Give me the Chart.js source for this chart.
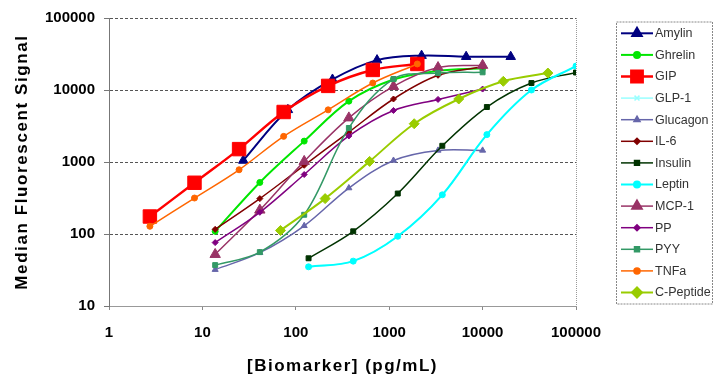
<!DOCTYPE html>
<html>
<head>
<meta charset="utf-8">
<script src="https://cdn.jsdelivr.net/npm/chart.js@4.4.0/dist/chart.umd.min.js"></script>
<style>
  html, body { margin: 0; padding: 0; background: #fff; }
  #wrap { width: 713px; height: 374px; }
</style>
</head>
<body>
<div id="wrap"><canvas id="chart" width="713" height="374"></canvas></div>
<script>
// concentrations (pg/mL), 3-fold dilution series
const xGip = [2.74, 8.23, 24.7, 74.1, 222, 667, 2000];
const xAmylin = [27.4, 82.3, 247, 741, 2222, 6667, 20000];
const xStd = [13.7, 41.2, 123, 370, 1111, 3333, 10000];
const xCpep = [68.6, 206, 617, 1852, 5556, 16667, 50000];
const xHigh = [137, 412, 1235, 3704, 11111, 33333, 100000];

// median fluorescent signal
const amylin = [1050, 5300, 14000, 26000, 30000, 29000, 29000];
const ghrelin = [109, 520, 1950, 7000, 14000, 18500, 20000];
const gip = [175, 515, 1510, 4950, 11400, 19000, 23000];
const glp1 = [35, 42, 93, 350, 2400, 10000, 21500];
const glucagon = [32, 55, 130, 435, 1050, 1450, 1450];
const il6 = [116, 310, 900, 2600, 7500, 16000, 21000];
const insulin = [46, 109, 365, 1680, 5800, 12500, 17500];
const leptin = [35, 42, 93, 350, 2400, 10000, 21500];
const mcp1 = [52, 215, 1020, 4100, 11200, 20500, 22000];
const pp = [76, 200, 670, 2300, 5200, 7400, 10300];
const pyy = [37, 56, 185, 2970, 14200, 17200, 17600];
const tnfa = [128, 316, 780, 2270, 5300, 12500, 23000];
const cpeptide = [112, 310, 1020, 3400, 7500, 13200, 17200];

const xTicks = [1, 10, 100, 1000, 10000, 100000];
const yTicks = [10, 100, 1000, 10000, 100000];

const FONT = "'Liberation Sans', Arial, sans-serif";

function pts(xs, ys) {
    return xs.map((x, i) => ({ x: x, y: ys[i] }));
}

function series(label, xs, ys, color, style, radius, width) {
    return {
        label: label,
        data: pts(xs, ys),
        borderColor: color,
        backgroundColor: color,
        pointBackgroundColor: color,
        pointBorderColor: color,
        pointStyle: style,
        pointRadius: radius,
        pointBorderWidth: 1,
        borderWidth: width || 1.5,
        tension: 0.35,
        fill: false
    };
}

const datasets = [
    series('Amylin', xAmylin, amylin, '#000080', 'triangle', 5.5, 2),
    series('Ghrelin', xStd, ghrelin, '#00e600', 'circle', 3, 2),
    series('GIP', xGip, gip, '#ff0000', 'rect', 9.5, 2.5),
    series('GLP-1', xHigh, glp1, '#99ffff', 'crossRot', 3.5, 1.5),
    series('Glucagon', xStd, glucagon, '#6666aa', 'triangle', 3.5, 1.5),
    series('IL-6', xStd, il6, '#800000', 'rectRot', 3, 1.5),
    series('Insulin', xHigh, insulin, '#003300', 'rect', 3.5, 1.5),
    series('Leptin', xHigh, leptin, '#00ffff', 'circle', 3, 2),
    series('MCP-1', xStd, mcp1, '#993366', 'triangle', 6, 1.5),
    series('PP', xStd, pp, '#800080', 'rectRot', 3, 1.5),
    series('PYY', xStd, pyy, '#339966', 'rect', 3.5, 1.5),
    series('TNFa', xGip, tnfa, '#ff6600', 'circle', 3, 1.5),
    series('C-Peptide', xCpep, cpeptide, '#99cc00', 'rectRot', 5, 2)
];
// later series on top, like the spreadsheet
datasets.forEach((d, i) => { d.order = -i; });

const decorations = {
    id: 'decorations',
    afterDraw(chart) {
        const ctx = chart.ctx;
        const a = chart.chartArea;
        ctx.save();

        // right border of plot area
        ctx.strokeStyle = '#999';
        ctx.lineWidth = 1;
        ctx.setLineDash([1, 1]);
        ctx.beginPath();
        ctx.moveTo(a.right + 0.5, a.top);
        ctx.lineTo(a.right + 0.5, a.bottom);
        ctx.stroke();
        ctx.setLineDash([]);

        // axis titles
        ctx.fillStyle = '#000';
        ctx.font = 'bold 17px ' + FONT;
        ctx.textAlign = 'center';
        ctx.textBaseline = 'alphabetic';
        ctx.letterSpacing = '1.5px';
        ctx.fillText('[Biomarker] (pg/mL)', (a.left + a.right) / 2, 371);
        ctx.save();
        ctx.translate(27, 162);
        ctx.rotate(-Math.PI / 2);
        ctx.letterSpacing = '1.6px';
        ctx.fillText('Median Fluorescent Signal', 0, 0);
        ctx.restore();
        ctx.letterSpacing = '0px';

        // legend
        const lx = 616, ly = 21.5, lw = 96, lh = 282;
        ctx.strokeStyle = '#888';
        ctx.setLineDash([2, 1]);
        ctx.strokeRect(lx + 0.5, ly + 0.5, lw, lh);
        ctx.setLineDash([]);
        ctx.font = '12.5px ' + FONT;
        ctx.textAlign = 'left';
        ctx.textBaseline = 'middle';
        chart.data.datasets.forEach((d, i) => {
            const y = 33.3 + i * 21.6;
            ctx.strokeStyle = d.borderColor;
            ctx.fillStyle = d.borderColor;
            ctx.lineWidth = d.borderWidth;
            ctx.beginPath();
            ctx.moveTo(621, y);
            ctx.lineTo(653, y);
            ctx.stroke();
            Chart.helpers.drawPoint(ctx, {
                pointStyle: d.pointStyle,
                radius: d.pointStyle === 'rect' && d.pointRadius > 5 ? 8 : d.pointRadius,
                rotation: 0,
                borderWidth: 1
            }, 637, y);
            ctx.fillStyle = '#333';
            ctx.fillText(d.label, 655, y + 0.5);
        });
        ctx.restore();
    }
};

new Chart(document.getElementById('chart'), {
    type: 'line',
    data: { datasets: datasets },
    options: {
        responsive: false,
        animation: false,
        layout: { padding: { top: 18, right: 137, bottom: 0, left: 0 } },
        plugins: {
            legend: { display: false },
            tooltip: { enabled: false }
        },
        scales: {
            x: {
                type: 'logarithmic',
                min: 1,
                max: 100000,
                afterBuildTicks: s => { s.ticks = xTicks.map(v => ({ value: v })); },
                afterFit: s => { s.height = 68; },
                grid: { drawOnChartArea: false, drawTicks: true, tickLength: 4, color: '#888' },
                border: { display: true, color: '#999', width: 1 },
                ticks: {
                    color: '#000',
                    font: { family: FONT, size: 15, weight: 'bold' },
                    padding: 14,
                    maxRotation: 0,
                    autoSkip: false,
                    callback: v => String(v)
                }
            },
            y: {
                type: 'logarithmic',
                min: 10,
                max: 100000,
                afterBuildTicks: s => { s.ticks = yTicks.map(v => ({ value: v })); },
                afterFit: s => { s.width = 109; },
                grid: { color: '#555', lineWidth: 1, tickLength: 5, tickColor: '#777' },
                border: { display: true, color: '#777', width: 1, dash: [3, 2] },
                ticks: {
                    color: '#000',
                    font: { family: FONT, size: 15, weight: 'bold' },
                    padding: 9,
                    autoSkip: false,
                    callback: v => String(v)
                }
            }
        }
    },
    plugins: [decorations]
});
</script>
</body>
</html>
